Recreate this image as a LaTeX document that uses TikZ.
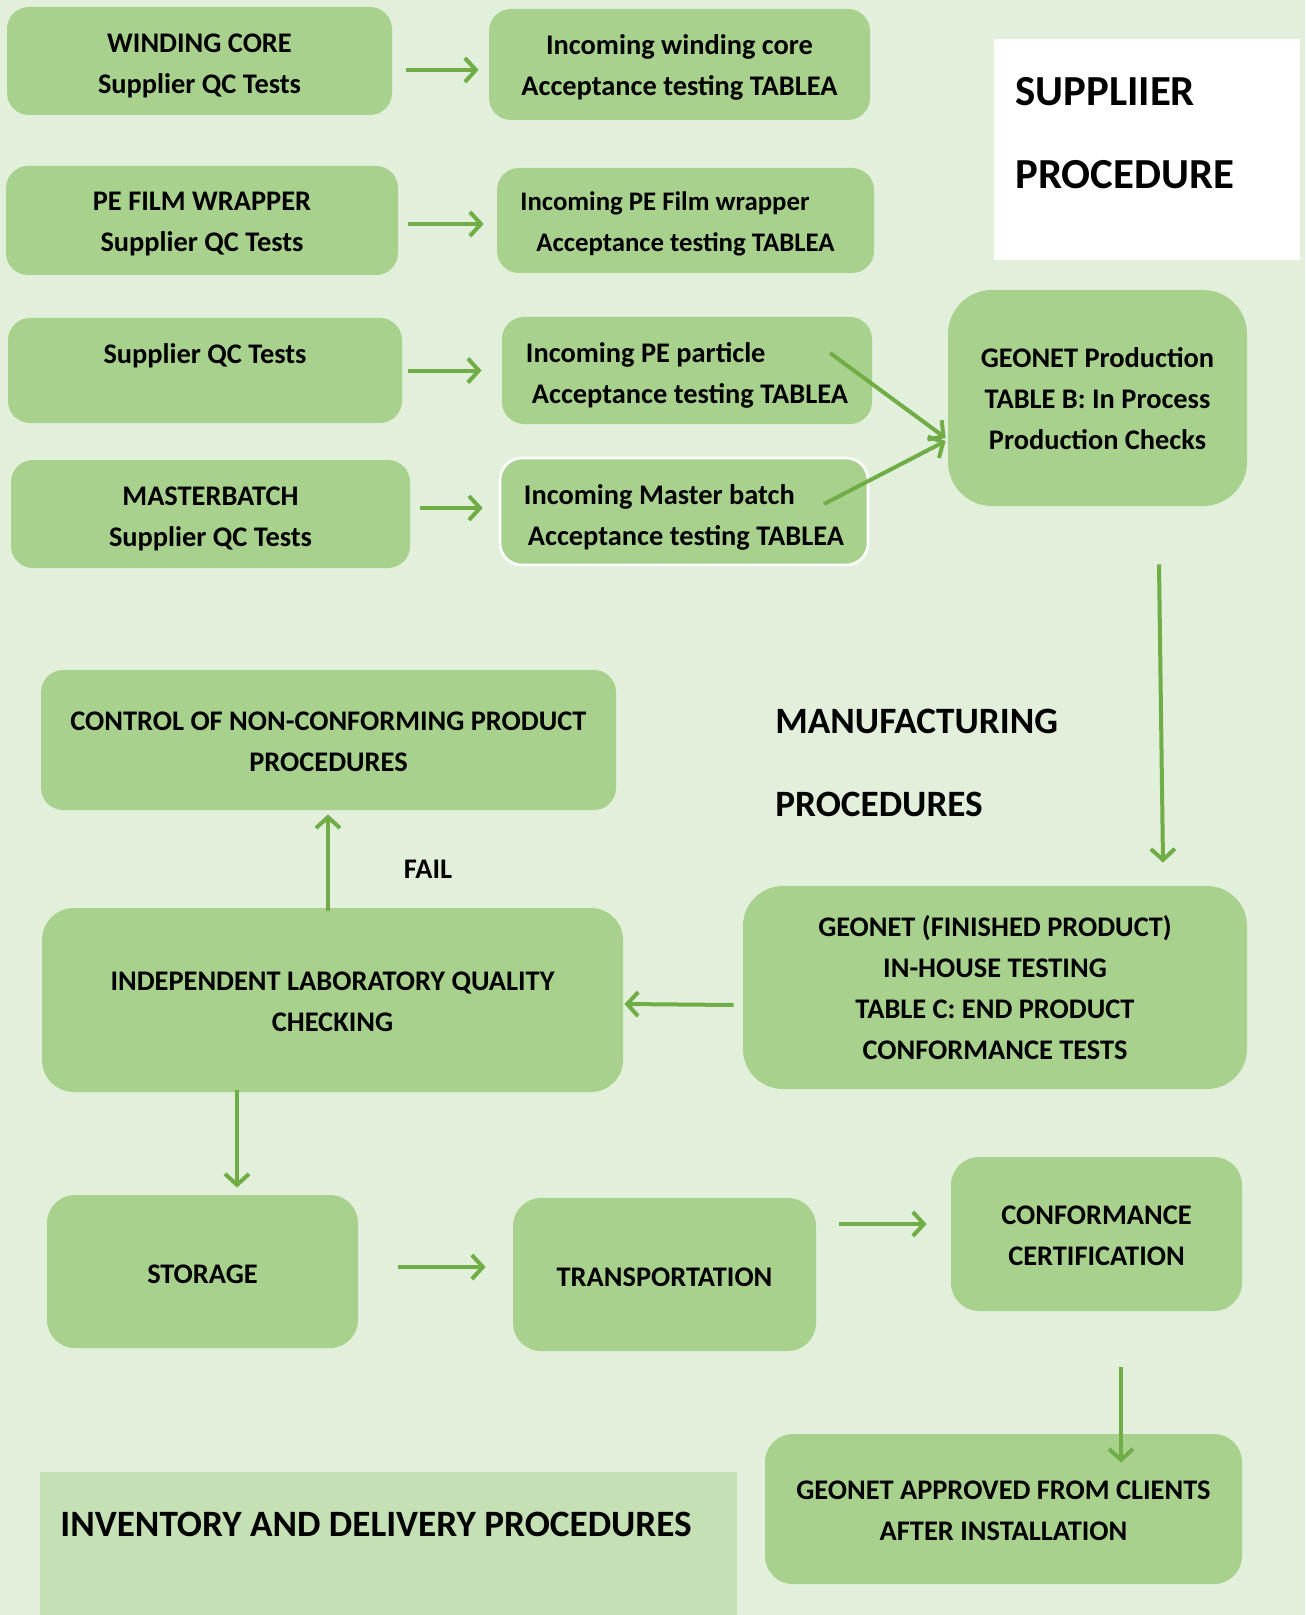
\documentclass[tikz,border=0pt]{standalone}
\usepackage{fontspec}
\setmainfont{Carlito}
\usetikzlibrary{arrows.meta}
\definecolor{bgc}{HTML}{E2EFDA}
\definecolor{boxc}{HTML}{A9D18E}
\definecolor{arrc}{HTML}{70AD47}
\definecolor{invc}{HTML}{C5E0B4}
\tikzset{
  gbox/.style={fill=boxc, draw=none, rounded corners=11pt, inner sep=0pt},
  btxt/.style={inner sep=0pt, align=center, font=\fontsize{14.2}{20.5}\selectfont\bfseries},
  arr/.style={draw=arrc, line width=2pt, -{Straight Barb[length=5.5pt, width=12pt, line width=2pt]}},
  bigtxt/.style={anchor=west, inner sep=0pt, font=\fontsize{18.6}{20}\selectfont\bfseries},
}
\begin{document}
\begin{tikzpicture}[x=0.5pt, y=-0.5pt]
\fill[bgc] (0,0) rectangle (1305,1615);
\useasboundingbox (0,0) rectangle (1305,1615);

% supplier procedure box
\fill[white] (994,39) rectangle (1300,260);
\node[bigtxt, font=\fontsize{21.4}{24}\selectfont\bfseries] (sup1) at (1015,92) {SUPPLIIER};
\node[bigtxt, font=\fontsize{21.4}{24}\selectfont\bfseries] (sup2) at (1015,175) {PROCEDURE};

% inventory
\fill[invc] (40,1472) rectangle (737,1615);
\node[bigtxt] (inv) at (60,1524) {INVENTORY AND DELIVERY PROCEDURES};

% manufacturing
\node[bigtxt] (man1) at (775,721) {MANUFACTURING};
\node[bigtxt] (man2) at (775,804) {PROCEDURES};

% boxes
\node[gbox, minimum width=192.5pt, minimum height=54pt] (wc) at (199.5,61) {};
\node[btxt] (wct) at ([yshift=-2.5pt]wc.center) {WINDING CORE\\Supplier QC Tests};
\node[gbox, minimum width=190.5pt, minimum height=55.5pt] (iwc) at (679.5,64.5) {};
\node[btxt] (iwct) at ([yshift=-1.5pt]iwc.center) {Incoming winding core\\Acceptance testing TABLEA};
\node[gbox, minimum width=196pt, minimum height=54.5pt] (pe) at (202,220.5) {};
\node[btxt] (pet) at ([yshift=-2pt]pe.center) {PE FILM WRAPPER\\Supplier QC Tests};
\node[gbox, minimum width=188.5pt, minimum height=52.5pt] (ipe) at (685.5,220.5) {};
\node[btxt, align=left, font=\fontsize{13.4}{20.5}\selectfont\bfseries] (ipet) at ([shift={(-8,3)}]ipe.center) {Incoming PE Film wrapper\\\hspace{8pt}Acceptance testing TABLEA};
\node[gbox, minimum width=197pt, minimum height=52.5pt] (sqc) at (205,370.5) {};
\node[btxt] (sqct) at (205,356) {Supplier QC Tests};
\node[gbox, minimum width=185pt, minimum height=53.5pt] (ipp) at (687,370.5) {};
\node[btxt, align=left] (ippt) at ([yshift=-2.5pt]ipp.center) {Incoming PE particle\\\hspace{3pt}Acceptance testing TABLEA};
\node[gbox, minimum width=199.5pt, minimum height=54pt] (mb) at (210.5,514) {};
\node[btxt] (mbt) at ([yshift=-2.5pt]mb.center) {MASTERBATCH\\Supplier QC Tests};
\node[gbox, draw=white, line width=1.3pt, minimum width=184pt, minimum height=53.5pt] (imb) at (684,511.5) {};
\node[btxt, align=left] (imbt) at ([yshift=-3pt]imb.center) {Incoming Master batch\\\hspace{2pt}Acceptance testing TABLEA};
\node[gbox, rounded corners=22pt, minimum width=149.5pt, minimum height=108pt] (gp) at (1097.5,398) {};
\node[btxt] (gpt) at ([yshift=-0.5pt]gp.center) {GEONET Production\\TABLE B: In Process\\Production Checks};

\node[gbox, minimum width=287.5pt, minimum height=70pt] (ctrl) at (328.5,740) {};
\node[btxt] (ctrlt) at ([yshift=-1pt]ctrl.center) {CONTROL OF NON-CONFORMING PRODUCT\\PROCEDURES};
\node[gbox, rounded corners=16pt, minimum width=290.5pt, minimum height=92pt] (ind) at (332.5,1000) {};
\node[btxt] (indt) at ([yshift=-1pt]ind.center) {INDEPENDENT LABORATORY QUALITY\\CHECKING};
\node[gbox, rounded corners=20pt, minimum width=252pt, minimum height=101.5pt] (fin) at (995,987.5) {};
\node[btxt] (fint) at (fin.center) {GEONET (FINISHED PRODUCT)\\IN-HOUSE TESTING\\TABLE C: END PRODUCT\\CONFORMANCE TESTS};
\node[btxt] (fail) at (428,869) {FAIL};

\node[gbox, rounded corners=14pt, minimum width=155.5pt, minimum height=76.5pt] (sto) at (202.5,1271.5) {};
\node[btxt] (stot) at ([yshift=-1.5pt]sto.center) {STORAGE};
\node[gbox, rounded corners=14pt, minimum width=151.5pt, minimum height=76.5pt] (tra) at (664.5,1274.5) {};
\node[btxt] (trat) at ([yshift=-1.5pt]tra.center) {TRANSPORTATION};
\node[gbox, rounded corners=14pt, minimum width=145.5pt, minimum height=77pt] (con) at (1096.5,1234) {};
\node[btxt] (cont) at ([yshift=-1pt]con.center) {CONFORMANCE\\CERTIFICATION};
\node[gbox, rounded corners=14pt, minimum width=238.5pt, minimum height=75pt] (app) at (1003.5,1509) {};
\node[btxt] (appt) at ([yshift=-1pt]app.center) {GEONET APPROVED FROM CLIENTS\\AFTER INSTALLATION};

% arrows
\draw[arr] ([shift={(14,9)}]wc.east) -- ([shift={(-10,5.5)}]iwc.west);
\draw[arr] ([shift={(10,3.5)}]pe.east) -- ([shift={(-13,3.5)}]ipe.west);
\draw[arr] ([shift={(6,0)}]sqc.east) -- ([shift={(-20,0)}]ipp.west);
\draw[arr] ([shift={(10,-6)}]mb.east) -- ([shift={(-16,-3.5)}]imb.west);
\draw[arr] ([shift={(143,-17.5)}]ipp.center) -- ([shift={(-2,40)}]gp.west);
\draw[arr] ([shift={(140,-7.5)}]imb.center) -- ([shift={(-2,43)}]gp.west);
\draw[arr] ([shift={(61.5,58)}]gp.south) -- ([shift={(168,-23)}]fin.north);
\draw[arr] ([shift={(-4.5,3)}]ind.north) -- ([shift={(-0.5,4)}]ctrl.south);
\draw[arr] ([shift={(-9,17.5)}]fin.west) -- ([shift={(1,4)}]ind.east);
\draw[arr] ([shift={(-95.5,-2)}]ind.south) -- ([shift={(34.5,-7)}]sto.north);
\draw[arr] ([shift={(40,-4.5)}]sto.east) -- ([shift={(-27,-7.5)}]tra.west);
\draw[arr] ([shift={(23,-50.5)}]tra.east) -- ([shift={(-24,-10)}]con.west);
\draw[arr] ([shift={(24.5,56)}]con.south) -- ([shift={(117.5,29)}]app.north);
\end{tikzpicture}
\end{document}
